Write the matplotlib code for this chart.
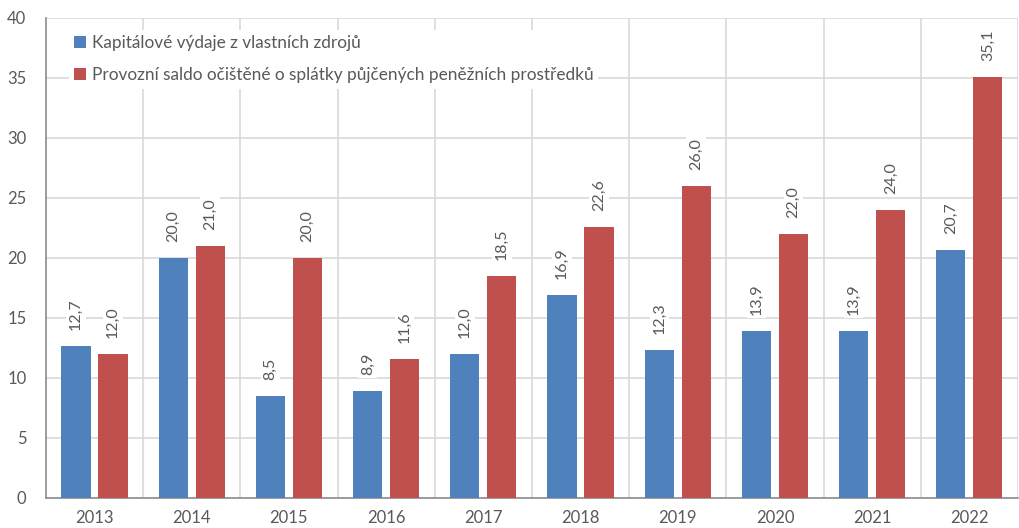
import numpy as np
import matplotlib.pyplot as plt

roky = ['2013', '2014', '2015', '2016', '2017', '2018', '2019', '2020', '2021', '2022']
kapitalove = [12.7, 20.0, 8.5, 8.9, 12.0, 16.9, 12.3, 13.9, 13.9, 20.7]
provozni = [12.0, 21.0, 20.0, 11.6, 18.5, 22.6, 26.0, 22.0, 24.0, 35.1]

modra = '#4F81BD'
cervena = '#C0504D'
seda = '#595959'

plt.rcParams['font.family'] = ['Lato', 'DejaVu Sans']

fig = plt.figure(figsize=(10.2, 5.28), dpi=100)
ax = fig.add_axes([0.045, 0.057, 0.953, 0.909])

x = np.arange(len(roky))
sirka = 0.3
mezera = 0.08
b1 = ax.bar(x - sirka / 2 - mezera / 2, kapitalove, sirka, color=modra,
            label='Kapitálové výdaje z vlastních zdrojů', zorder=3)
b2 = ax.bar(x + sirka / 2 + mezera / 2, provozni, sirka, color=cervena,
            label='Provozní saldo očištěné o splátky půjčených peněžních prostředků', zorder=3)

# popisky hodnot nad sloupci, otočené o 90°
for bars, vals in ((b1, kapitalove), (b2, provozni)):
    for b, v in zip(bars, vals):
        ax.annotate(f'{v:.1f}'.replace('.', ','),
                    (b.get_x() + b.get_width() / 2, v),
                    xytext=(0, 16), textcoords='offset pixels',
                    ha='center', va='bottom', rotation=90, fontsize=11.5, color=seda,
                    bbox=dict(facecolor='white', edgecolor='none', pad=2), zorder=4)

ax.set_xlim(-0.5, len(roky) - 0.5)
ax.set_ylim(0, 40)
ax.set_yticks(range(0, 41, 5))
ax.set_xticks(x)
ax.set_xticklabels(roky)
ax.set_xticks(np.arange(0.5, len(roky) - 0.5, 1), minor=True)
ax.tick_params(axis='both', which='both', length=0, labelsize=12, colors=seda)
ax.tick_params(axis='x', pad=9)
ax.tick_params(axis='y', pad=14)
ax.grid(True, axis='y', color='#D9D9D9', linewidth=1.2, zorder=0)
ax.grid(True, axis='x', which='minor', color='#D9D9D9', linewidth=1.2, zorder=0)
ax.grid(False, axis='x', which='major')
ax.axvline(len(roky) - 0.5, color='#D9D9D9', linewidth=1.2, zorder=0)

for s in ('top', 'right'):
    ax.spines[s].set_visible(False)
for s in ('left', 'bottom'):
    ax.spines[s].set_color('#8C8C8C')
    ax.spines[s].set_linewidth(1.2)

leg = ax.legend(loc='upper left', bbox_to_anchor=(0.024, 0.975), frameon=True, fontsize=12.4,
                handlelength=0.7, handleheight=0.7, handletextpad=0.3, labelspacing=0.95,
                borderaxespad=0, fancybox=False, borderpad=0.3)
leg.get_frame().set_edgecolor('none')
leg.get_frame().set_facecolor('white')
leg.get_frame().set_alpha(1)
for t in leg.get_texts():
    t.set_color(seda)
leg.set_zorder(5)

fig.savefig('out.png', dpi=100)
